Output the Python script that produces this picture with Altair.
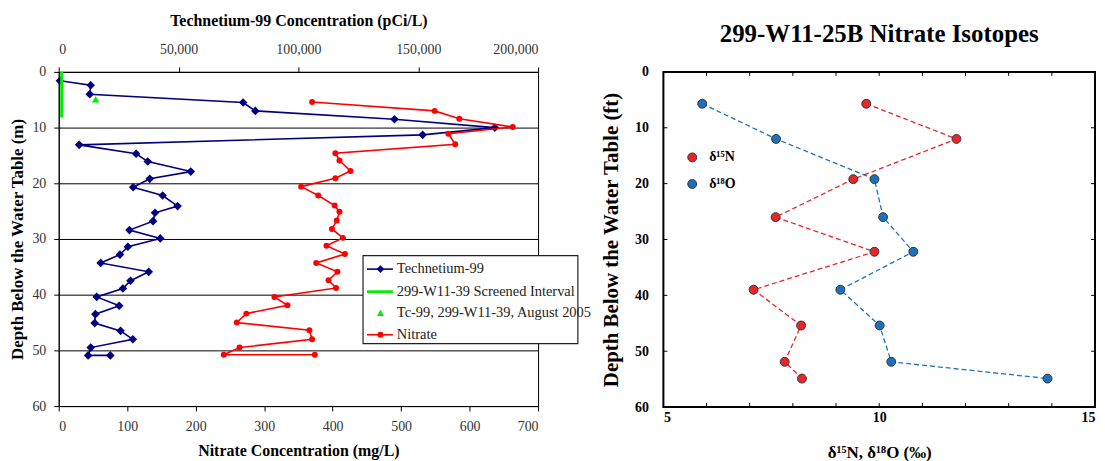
import altair as alt
import pandas as pd

FONT = "Liberation Serif"

# ---------------- Left panel data ----------------
tc_depth = [1.6, 2.4, 4.0, 5.5, 7.0, 8.5, 10.0, 11.3, 13.1, 14.7, 16.1, 17.9, 19.2, 20.7,
            22.2, 24.1, 25.3, 26.8, 28.4, 29.9, 31.4, 32.8, 34.3, 35.9, 37.5, 38.9, 40.4,
            42.0, 43.5, 45.1, 46.5, 48.0, 49.5, 50.9, 50.9]
tc_value = [500, 13350, 12940, 76950, 82050, 140090, 181970, 151830, 8540, 32300, 37150,
            55100, 37980, 31050, 43370, 49590, 40170, 39350, 29520, 42370, 28850, 25530,
            17500, 37560, 29940, 26780, 15840, 25250, 15300, 15010, 25790, 30930, 13350,
            12270, 21520]

nit_depth = [5.4, 7.0, 8.4, 9.9, 11.1, 13.0, 14.6, 15.9, 17.8, 19.1, 20.6, 22.2, 24.0, 25.1,
             26.7, 28.2, 29.8, 31.2, 32.7, 34.3, 35.9, 37.4, 38.8, 40.4, 41.9, 43.4, 45.0,
             46.4, 48.0, 49.5, 50.8, 50.8]
nit_value = [370, 549, 585, 663, 569, 579, 404, 410, 426, 404, 354, 379, 403, 410, 406, 399,
             415, 391, 418, 376, 407, 394, 405, 315, 334, 274, 260, 366, 370, 264, 241, 374]

screen_depth = [0.0, 8.2]
screen_tc = [1200, 1200]

aug_depth = [4.9]
aug_tc = [15420]

tc_ticks = [0, 50000, 100000, 150000, 200000]
nit_ticks = [0, 100, 200, 300, 400, 500, 600, 700]
depth_ticks = [0, 10, 20, 30, 40, 50, 60]

legend_labels = ["Technetium-99", "299-W11-39 Screened Interval",
                 "Tc-99, 299-W11-39, August 2005", "Nitrate"]

# ---------------- Right panel data ----------------
iso_depth = [5.7, 12.0, 19.2, 26.0, 32.2, 39.0, 45.4, 51.9, 54.9]
d15n = [9.70, 11.79, 9.40, 7.60, 9.89, 7.09, 8.19, 7.81, 8.21]
d18o = [5.90, 7.61, 9.89, 10.09, 10.79, 9.10, 10.01, 10.28, 13.90]
iso_ticks = [5, 6, 7, 8, 9, 10, 11, 12, 13, 14, 15]
iso_labels = [5, 10, 15]

W1, H1 = 482, 336
W2, H2 = 434, 337

NAVY = "#000080"
RED = "#ff0000"
GREEN = "#00ee00"
IRED = "#e8262a"
IBLUE = "#1b72ba"

# ---------------- Left panel ----------------
tc_df = pd.DataFrame({"idx": range(len(tc_depth)), "depth": tc_depth, "tc": tc_value})
nit_df = pd.DataFrame({"idx": range(len(nit_depth)), "depth": nit_depth, "nit": nit_value})
screen_df = pd.DataFrame({"depth": screen_depth, "tc": screen_tc})
aug_df = pd.DataFrame({"depth": aug_depth, "tc": aug_tc})

y_left = alt.Y(
    "depth:Q",
    scale=alt.Scale(domain=[0, 60], reverse=True, nice=False, zero=False),
    axis=alt.Axis(
        title="Depth Below the Water Table (m)", values=depth_ticks,
        grid=True, gridColor="black", gridOpacity=1, gridWidth=1,
        domainColor="black", tickColor="black", tickSize=5,
        labelFont=FONT, labelFontSize=14, labelColor="#333333", labelPadding=8,
        titleFont=FONT, titleFontSize=17, titleFontWeight="bold", titleColor="black",
        titlePadding=5,
    ),
)

x_tc = alt.X(
    "tc:Q",
    scale=alt.Scale(domain=[0, 200000], nice=False, zero=False),
    axis=alt.Axis(
        orient="top", title="Technetium-99 Concentration (pCi/L)", values=tc_ticks,
        format=",d", grid=False, domainColor="black", tickColor="black", tickSize=5,
        labelFont=FONT, labelFontSize=14, labelColor="#333333", labelPadding=11,
        titleFont=FONT, titleFontSize=16, titleFontWeight="bold", titleColor="black",
        titlePadding=14,
    ),
)

x_nit = alt.X(
    "nit:Q",
    scale=alt.Scale(domain=[0, 700], nice=False, zero=False),
    axis=alt.Axis(
        orient="bottom", title="Nitrate Concentration (mg/L)", values=nit_ticks,
        grid=False, domainColor="black", tickColor="black", tickSize=5,
        labelFont=FONT, labelFontSize=14, labelColor="#333333", labelPadding=9,
        titleFont=FONT, titleFontSize=16, titleFontWeight="bold", titleColor="black",
        titlePadding=9,
    ),
)

tc_line = alt.Chart(tc_df).mark_line(color=NAVY, strokeWidth=1.6).encode(
    x=x_tc, y=y_left, order="idx:Q")
tc_pts = alt.Chart(tc_df).mark_point(shape="diamond", filled=True, color=NAVY, size=75, opacity=1).encode(
    x=x_tc, y=y_left)
screen_line = alt.Chart(screen_df).mark_line(color=GREEN, strokeWidth=2.8).encode(
    x=x_tc, y=y_left, order="depth:Q")
aug_pt = alt.Chart(aug_df).mark_point(shape="triangle-up", filled=True, color=GREEN, size=55, opacity=1).encode(
    x=x_tc, y=y_left)
tc_group = alt.layer(tc_line, tc_pts, screen_line, aug_pt)

nit_line = alt.Chart(nit_df).mark_line(color=RED, strokeWidth=1.6).encode(
    x=x_nit, y=y_left, order="idx:Q")
nit_pts = alt.Chart(nit_df).mark_point(shape="circle", filled=True, color=RED, size=36, opacity=1).encode(
    x=x_nit, y=y_left)
nit_group = alt.layer(nit_line, nit_pts)

one = pd.DataFrame({"k": [0]})
LX0, LX1, LY0, LY1 = 306, 522, 184.7, 273.3
row_y = [198.3, 221.0, 242.3, 264.3]
sym_x0, sym_x1, sym_c, txt_x = 310, 336, 323.5, 340

leg = [alt.Chart(one).mark_rect(fill="white", stroke="#222222", strokeWidth=1.2).encode(
    x=alt.value(LX0), x2=alt.value(LX1), y=alt.value(LY0), y2=alt.value(LY1))]
# Technetium-99 entry
leg.append(alt.Chart(one).mark_rule(color=NAVY, strokeWidth=1.6).encode(
    x=alt.value(sym_x0), x2=alt.value(sym_x1), y=alt.value(row_y[0])))
leg.append(alt.Chart(one).mark_point(shape="diamond", filled=True, color=NAVY, size=60, opacity=1).encode(
    x=alt.value(sym_c), y=alt.value(row_y[0])))
# Screened interval
leg.append(alt.Chart(one).mark_rule(color=GREEN, strokeWidth=2.8).encode(
    x=alt.value(sym_x0), x2=alt.value(sym_x1), y=alt.value(row_y[1])))
# August 2005
leg.append(alt.Chart(one).mark_point(shape="triangle-up", filled=True, color=GREEN, size=50, opacity=1).encode(
    x=alt.value(sym_c), y=alt.value(row_y[2])))
# Nitrate
leg.append(alt.Chart(one).mark_rule(color=RED, strokeWidth=1.6).encode(
    x=alt.value(sym_x0), x2=alt.value(sym_x1), y=alt.value(row_y[3])))
leg.append(alt.Chart(one).mark_point(shape="circle", filled=True, color=RED, size=36, opacity=1).encode(
    x=alt.value(sym_c), y=alt.value(row_y[3])))
for lab, yy in zip(legend_labels, row_y):
    leg.append(alt.Chart(one).mark_text(text=lab, font=FONT, fontSize=14.5, color="#222222",
                                        align="left", baseline="middle").encode(
        x=alt.value(txt_x), y=alt.value(yy)))

left = alt.layer(tc_group, nit_group, *leg).resolve_scale(x="independent").properties(
    width=W1, height=H1, view=alt.ViewBackground(stroke="black", strokeWidth=1, fill="white"))

# ---------------- Right panel ----------------
iso_n_df = pd.DataFrame({"depth": iso_depth, "val": d15n})
iso_o_df = pd.DataFrame({"depth": iso_depth, "val": d18o})
xt_df = pd.DataFrame({"val": iso_ticks})
yt_df = pd.DataFrame({"depth": depth_ticks})

y_right = alt.Y(
    "depth:Q",
    scale=alt.Scale(domain=[0, 60], reverse=True, nice=False, zero=False),
    axis=alt.Axis(
        title="Depth Below the Water Table (ft)", values=depth_ticks, grid=False,
        domain=False, ticks=False, tickSize=0,
        labelFont=FONT, labelFontSize=14, labelFontWeight="bold", labelColor="black", labelPadding=15,
        titleFont=FONT, titleFontSize=21, titleFontWeight="bold", titleColor="black", titlePadding=13,
    ),
)
x_right = alt.X(
    "val:Q",
    scale=alt.Scale(domain=[5, 15], nice=False, zero=False),
    axis=alt.Axis(
        title="δ¹⁵N, δ¹⁸O (‰)", values=iso_labels, grid=False, domain=False, ticks=False, tickSize=0,
        labelFont=FONT, labelFontSize=14, labelFontWeight="bold", labelColor="black", labelPadding=4,
        titleFont=FONT, titleFontSize=17, titleFontWeight="bold", titleColor="black", titlePadding=20,
    ),
)

dash = [5, 3]
n_line = alt.Chart(iso_n_df).mark_line(color=IRED, strokeWidth=1.3, strokeDash=dash).encode(
    x=x_right, y=y_right, order="depth:Q")
o_line = alt.Chart(iso_o_df).mark_line(color=IBLUE, strokeWidth=1.3, strokeDash=dash).encode(
    x=x_right, y=y_right, order="depth:Q")
n_pts = alt.Chart(iso_n_df).mark_point(shape="circle", filled=True, fill=IRED, stroke="#333333",
                                       strokeWidth=1, size=80, opacity=1).encode(x=x_right, y=y_right)
o_pts = alt.Chart(iso_o_df).mark_point(shape="circle", filled=True, fill=IBLUE, stroke="#333333",
                                       strokeWidth=1, size=80, opacity=1).encode(x=x_right, y=y_right)

tick_top = alt.Chart(xt_df).mark_rule(color="black", strokeWidth=1).encode(
    x=x_right, y=alt.value(0), y2=alt.value(4))
tick_bot = alt.Chart(xt_df).mark_rule(color="black", strokeWidth=1).encode(
    x=x_right, y=alt.value(H2), y2=alt.value(H2 - 4))
tick_l = alt.Chart(yt_df).mark_rule(color="black", strokeWidth=1).encode(
    y=y_right, x=alt.value(0), x2=alt.value(4))
tick_r = alt.Chart(yt_df).mark_rule(color="black", strokeWidth=1).encode(
    y=y_right, x=alt.value(W2), x2=alt.value(W2 - 4))

rleg = []
for lab, col, yy in [("δ¹⁵N", IRED, 86), ("δ¹⁸O", IBLUE, 112.7)]:
    rleg.append(alt.Chart(one).mark_point(shape="circle", filled=True, fill=col, stroke="#333333",
                                          strokeWidth=1, size=80, opacity=1).encode(
        x=alt.value(29), y=alt.value(yy)))
    rleg.append(alt.Chart(one).mark_text(text=lab, font=FONT, fontSize=14, fontWeight="bold",
                                         color="black", align="left", baseline="middle").encode(
        x=alt.value(46), y=alt.value(yy)))

right = alt.layer(tick_top, tick_bot, tick_l, tick_r, n_line, o_line, n_pts, o_pts, *rleg).properties(
    width=W2, height=H2,
    title=alt.TitleParams("299-W11-25B Nitrate Isotopes", font=FONT, fontSize=25, fontWeight="bold",
                          color="black", offset=18, anchor="middle"),
    view=alt.ViewBackground(stroke="black", strokeWidth=2, fill="white"))

chart = alt.hconcat(left, right, spacing=126, bounds="flush").properties(
    padding={"left": 0, "top": 2, "right": 0, "bottom": 0}, background="white")

chart.save("out.html", embed_options={"renderer": "svg", "actions": False})
